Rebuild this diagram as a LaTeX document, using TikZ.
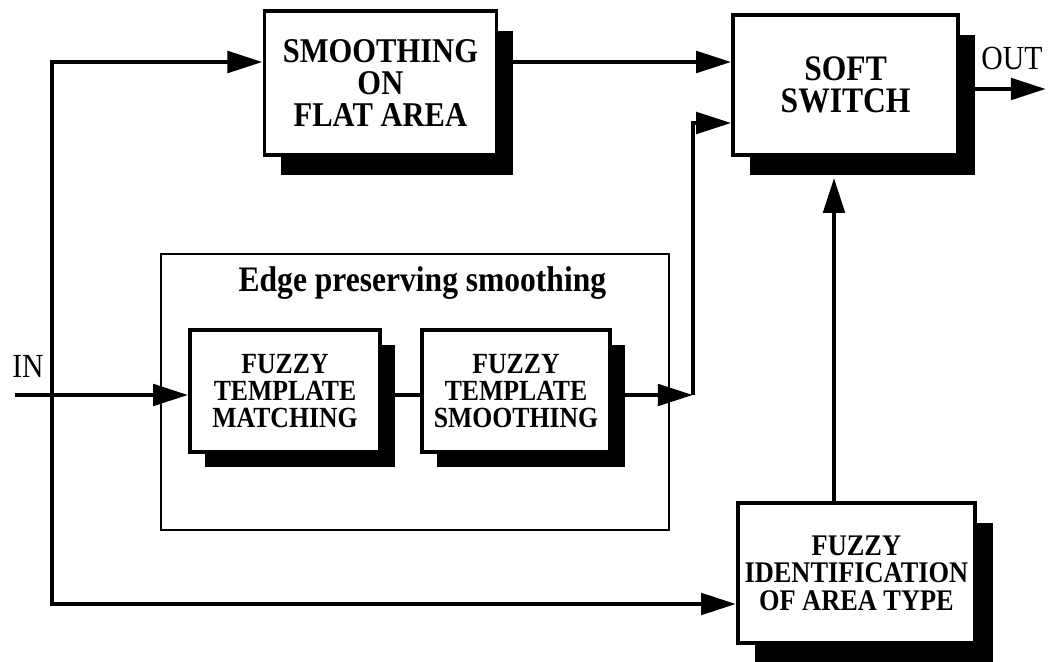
\documentclass[tikz,border=0pt]{standalone}
\usepackage{fontspec}
\setmainfont{Liberation Serif}[FakeStretch=0.88]
\usetikzlibrary{arrows.meta,shadows}

\begin{document}
\begin{tikzpicture}[
  every node/.style={font=\fontsize{24}{24}\selectfont},
  blockshadow/.style 2 args={drop shadow={shadow xshift=#1, shadow yshift=#2,
                                         fill=black, opacity=1}},
  block/.style={draw, line width=2.5pt, fill=white, inner sep=0pt,
                minimum width=5.8cm, minimum height=3.6cm, align=center,
                font=\fontsize{24.7}{22.5}\selectfont\bfseries,
                blockshadow={0.425cm}{-0.5cm}},
  subblock/.style={draw, line width=2.5pt, fill=white, inner sep=0pt,
                   minimum width=4.75cm, minimum height=3.05cm, align=center,
                   font=\fontsize{20.8}{19}\selectfont\bfseries,
                   blockshadow={0.375cm}{-0.36cm}},
  frame/.style={draw, line width=2pt, minimum width=12.7cm, minimum height=6.9cm},
  arrow/.style={-{Triangle[length=25pt, width=15pt]}, line width=3.5pt},
  wire/.style={line width=3.5pt}
]
\useasboundingbox (0,0) rectangle (26.225,-16.55);
% outer blocks
\node[block] (flat) at (9.51,-2.075) {SMOOTHING\\ON\\FLAT AREA};
\node[block, minimum width=5.625cm, minimum height=3.5cm,
      font=\fontsize{25.5}{23}\selectfont\bfseries] (switch) at (21.14,-2.125) {SOFT\\SWITCH};
\node[block, minimum width=5.925cm, minimum height=3.5cm,
      font=\fontsize{21.3}{19.6}\selectfont\bfseries,
      blockshadow={0.45cm}{-0.5cm}] (ident) at (21.41,-14.325) {FUZZY\\IDENTIFICATION\\OF AREA TYPE};
% edge preserving group
\node[frame] (edge) at (10.375,-9.8) {};
\node[font=\fontsize{25.5}{25.5}\selectfont\bfseries] (title) at (10.56,-7.08) {Edge preserving smoothing};
\node[subblock] (match) at (7.125,-9.78) {FUZZY\\TEMPLATE\\MATCHING};
\node[subblock, minimum width=4.7cm] (smooth) at (12.9,-9.78) {FUZZY\\TEMPLATE\\SMOOTHING};
% labels
\node (inlabel) at (0.7,-9.15) {IN};
\node (outlabel) at (25.3,-1.45) {OUT};
% connector points
\coordinate (in) at (0.375,-9.875);
\coordinate (split) at (1.3,-9.875);
\coordinate (top) at (1.3,-1.55);
\coordinate (bottom) at (1.3,-15.1);
\coordinate (bend) at (17.325,-9.875);
\coordinate (mid) at (17.325,-3.075);
\coordinate (up) at (20.85,-14.325);
\coordinate (out) at (26.15,-2.225);
% connectors
\draw[arrow] (in) -- (match.west |- in);
\draw[wire] (match.east |- in) -- (smooth.west |- in);
\draw[arrow] (smooth.east |- in) -- (bend);
\draw[arrow] (bend) -- (mid) -- (switch.west |- mid);
\draw[arrow] (split) -- (top) -- (flat.west |- top);
\draw[arrow] (split) -- (bottom) -- (ident.west |- bottom);
\draw[arrow] (flat.east |- top) -- (switch.west |- top);
\draw[arrow, shorten >=0.525cm] (ident.north -| up) -- (switch.south -| up);
\draw[arrow] (switch.east |- out) -- (out);
\end{tikzpicture}
\end{document}
